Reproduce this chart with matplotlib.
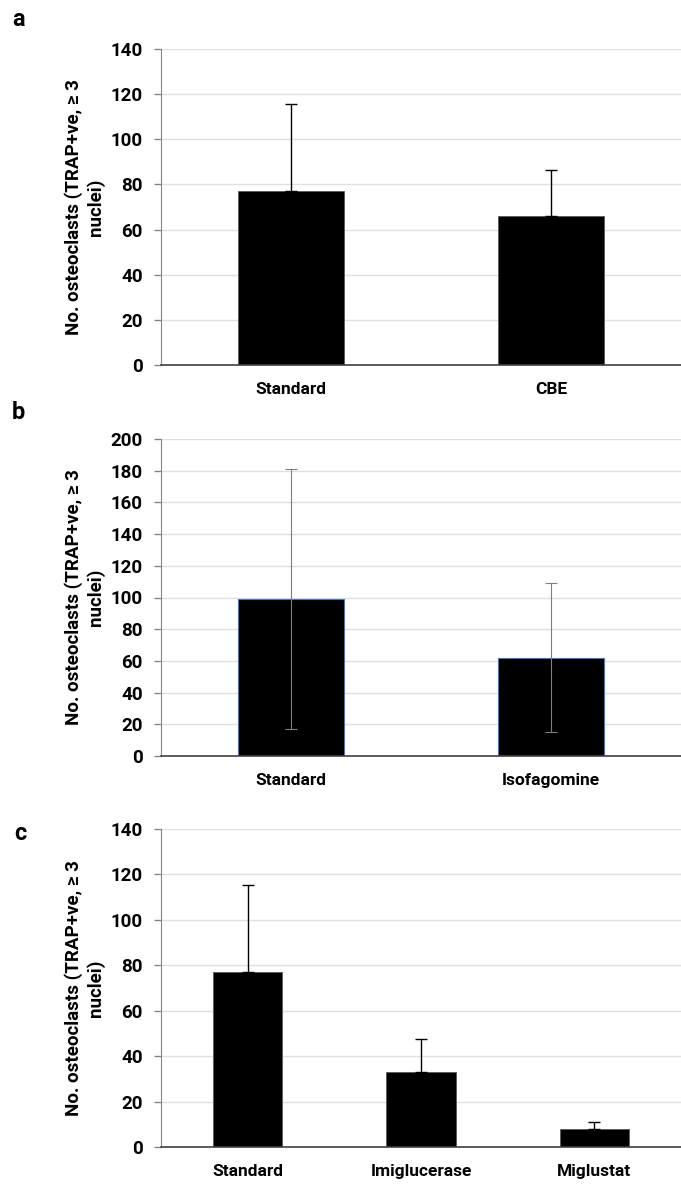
import matplotlib.pyplot as plt
import numpy as np

# panel a
cats_a = ['Standard', 'CBE']
vals_a = [77, 66]
err_a = [38.5, 20.5]

# panel b
cats_b = ['Standard', 'Isofagomine']
vals_b = [99, 62]
err_b = [82, 47]

# panel c
cats_c = ['Standard', 'Imiglucerase', 'Miglustat']
vals_c = [77, 33, 8]
err_c = [38.5, 14.5, 3]

ylabel = 'No. osteoclasts (TRAP+ve, \u2265 3\nnuclei)'

plt.rcParams['font.family'] = ['Roboto', 'DejaVu Sans']
plt.rcParams['font.weight'] = 'bold'

fig = plt.figure(figsize=(6.81, 11.84), dpi=100)

W, H = 681, 1184
left = 161 / W
width = 1 - left


def make_ax(top_px, bottom_px):
    return fig.add_axes([left, 1 - bottom_px / H, width, (bottom_px - top_px) / H])


def style(ax, cats, ymax, step):
    ax.set_xlim(-0.5, len(cats) - 0.5)
    ax.set_ylim(0, ymax)
    ax.set_yticks(np.arange(0, ymax + 1, step))
    ax.set_xticks(range(len(cats)))
    ax.set_xticklabels(cats, fontsize=12.5, fontweight='bold')
    ax.tick_params(axis='x', length=0, pad=12)
    ax.tick_params(axis='y', length=5, width=1, color='#868686', pad=8,
                   labelsize=13.5)
    for lab in ax.get_yticklabels():
        lab.set_fontweight('bold')
    ax.grid(axis='y', color='#e0e0e0', linewidth=1)
    ax.set_axisbelow(True)
    ax.spines['top'].set_visible(False)
    ax.spines['right'].set_visible(False)
    ax.spines['left'].set_color('#868686')
    ax.spines['bottom'].set_color('#404040')
    ax.spines['bottom'].set_linewidth(1.2)
    ax.set_ylabel(ylabel, fontsize=13.5, fontweight='bold', labelpad=4,
                  linespacing=1.2)


# a
ax = make_ax(49, 365)
x = np.arange(len(cats_a))
ax.bar(x, vals_a, width=0.41, color='black', edgecolor='#595959', linewidth=0.6)
ax.errorbar(x, vals_a, yerr=[np.zeros(len(err_a)), err_a], fmt='none',
            ecolor='black', elinewidth=1, capsize=4, capthick=1)
style(ax, cats_a, 140, 20)
fig.text(12 / W, 1 - 20 / H, 'a', fontsize=17, fontweight='bold', va='center')

# b
ax = make_ax(439, 756)
x = np.arange(len(cats_b))
ax.bar(x, vals_b, width=0.41, color='black', edgecolor='#4472c4', linewidth=0.8)
ax.errorbar(x, vals_b, yerr=err_b, fmt='none',
            ecolor='#7f7f7f', elinewidth=0.8, capsize=4, capthick=0.8)
style(ax, cats_b, 200, 20)
fig.text(12 / W, 1 - 412 / H, 'b', fontsize=17, fontweight='bold', va='center')

# c
ax = make_ax(829, 1147)
x = np.arange(len(cats_c))
ax.bar(x, vals_c, width=0.40, color='black', edgecolor='#595959', linewidth=0.6)
ax.errorbar(x, vals_c, yerr=[np.zeros(len(err_c)), err_c], fmt='none',
            ecolor='black', elinewidth=1, capsize=4, capthick=1)
style(ax, cats_c, 140, 20)
fig.text(14 / W, 1 - 833 / H, 'c', fontsize=17, fontweight='bold', va='center')

fig.savefig('out.png', dpi=100)
